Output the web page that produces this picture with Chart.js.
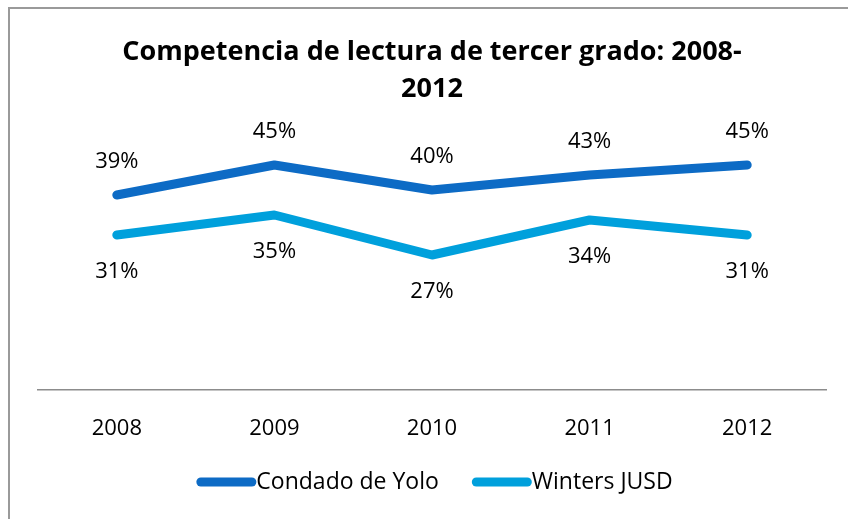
<!DOCTYPE html>
<html>
<head>
<meta charset="utf-8">
<script src="https://cdn.jsdelivr.net/npm/chart.js@4/dist/chart.umd.min.js"></script>
<style>
  html, body { margin: 0; padding: 0; background: #fff; }
  #wrap { position: relative; width: 848px; height: 519px; overflow: hidden; }
  #frame { position: absolute; left: 8px; top: 7px; width: 1000px; height: 1000px;
           border-left: 2px solid #9a9a9a; border-top: 2px solid #9a9a9a; }
  canvas { position: absolute; left: 0; top: 0; }
</style>
</head>
<body>
<div id="wrap">
  <div id="frame"></div>
  <canvas id="c" width="848" height="519"></canvas>
</div>
<script>
const titleLines = ['Competencia de lectura de tercer grado: 2008-', '2012'];
const years = ['2008', '2009', '2010', '2011', '2012'];
const seriesNames = ['Condado de Yolo', 'Winters JUSD'];
const yoloValues = [0.39, 0.45, 0.40, 0.43, 0.45];
const wintersValues = [0.31, 0.35, 0.27, 0.34, 0.31];

const FONT = '"Open Sans", "DejaVu Sans", sans-serif';

const pointLabels = {
  id: 'pointLabels',
  afterDatasetsDraw(chart) {
    const ctx = chart.ctx;
    chart.data.datasets.forEach((ds, i) => {
      const meta = chart.getDatasetMeta(i);
      meta.data.forEach((pt, j) => {
        ctx.save();
        ctx.font = '22px ' + FONT;
        ctx.fillStyle = '#000';
        ctx.textAlign = 'center';
        ctx.textBaseline = 'middle';
        ctx.fillText(Math.round(ds.data[j] * 100) + '%', pt.x, pt.y + ds.labelOffset);
        ctx.restore();
      });
    });
  }
};

// Legend drawn from the datasets: swatch immediately followed by its text
const lineLegend = {
  id: 'lineLegend',
  afterDraw(chart, args, opts) {
    const ctx = chart.ctx;
    ctx.save();
    ctx.font = opts.fontSize + 'px ' + FONT;
    const items = chart.data.datasets.map(ds => ({
      label: ds.label, color: ds.borderColor, w: opts.swatch + ctx.measureText(ds.label).width
    }));
    const total = items.reduce((s, it) => s + it.w, 0) + opts.gap * (items.length - 1);
    let x = (chart.chartArea.left + chart.chartArea.right) / 2 - total / 2 + opts.shift;
    const y = opts.y;
    items.forEach(it => {
      ctx.strokeStyle = it.color;
      ctx.lineWidth = opts.thickness;
      ctx.lineCap = 'round';
      ctx.beginPath();
      ctx.moveTo(x + opts.thickness / 2, y);
      ctx.lineTo(x + opts.swatch - opts.thickness / 2, y);
      ctx.stroke();
      ctx.fillStyle = '#000';
      ctx.textAlign = 'left';
      ctx.textBaseline = 'middle';
      ctx.fillText(it.label, x + opts.swatch, y);
      x += it.w + opts.gap;
    });
    ctx.restore();
  }
};

function build() {
  new Chart(document.getElementById('c'), {
    type: 'line',
    data: {
      labels: years,
      datasets: [
        { label: seriesNames[0], data: yoloValues, borderColor: '#0D6BC5', backgroundColor: '#0D6BC5',
          borderWidth: 9, pointRadius: 0, borderCapStyle: 'round', borderJoinStyle: 'round', tension: 0, labelOffset: -33 },
        { label: seriesNames[1], data: wintersValues, borderColor: '#00A0DC', backgroundColor: '#00A0DC',
          borderWidth: 9, pointRadius: 0, borderCapStyle: 'round', borderJoinStyle: 'round', tension: 0, labelOffset: 37 }
      ]
    },
    options: {
      responsive: false,
      animation: false,
      events: [],
      layout: { padding: { left: 38, right: 22, top: 0, bottom: 58.6 } },
      scales: {
        x: {
          offset: true,
          grid: { display: false },
          border: { display: true, color: '#8c8c8c', width: 1.5 },
          ticks: { color: '#000', font: { family: FONT, size: 22 }, padding: 18 }
        },
        y: { display: false, min: 0, max: 0.5 }
      },
      plugins: {
        title: {
          display: true, text: titleLines, color: '#000',
          font: { family: FONT, size: 27, weight: 'bold', lineHeight: 1.4 },
          padding: { top: 33, bottom: 31.4 }
        },
        legend: { display: false },
        lineLegend: { y: 482, fontSize: 23, swatch: 60, thickness: 9, gap: 33, shift: 2.5 },
        tooltip: { enabled: false }
      },
      clip: false
    },
    plugins: [pointLabels, lineLegend]
  });
}
if (document.fonts && document.fonts.load) {
  Promise.all([document.fonts.load('23px "Open Sans"'), document.fonts.load('bold 27px "Open Sans"')]).then(build, build);
} else { build(); }
</script>
</body>
</html>
